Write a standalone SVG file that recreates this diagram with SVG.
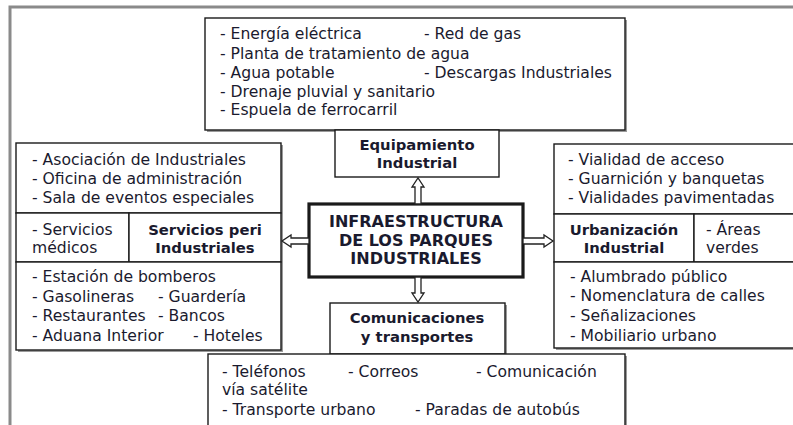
<svg xmlns="http://www.w3.org/2000/svg" width="793" height="425" viewBox="0 0 793 425">
<style>
.frame{fill:none;stroke:#8a8a8a;stroke-width:3}
.box{fill:#fff;stroke:#1a1a1a;stroke-width:1.4}
.sh{fill:#9a9a9a}
.main{fill:#fff;stroke:#1a1a1a;stroke-width:3.2}
.t{font-family:"DejaVu Sans","Liberation Sans",sans-serif;font-size:15.6px;fill:#1a1a2e}
.b{font-family:"DejaVu Sans","Liberation Sans",sans-serif;font-size:14.8px;font-weight:bold;fill:#1a1a2e;text-anchor:middle}
.bm{font-family:"DejaVu Sans","Liberation Sans",sans-serif;font-size:16px;font-weight:bold;fill:#1a1a2e;text-anchor:middle}
.arr{fill:#fff;stroke:#222;stroke-width:1.3;stroke-linejoin:miter}
</style>
<rect class="frame" x="10" y="7" width="800" height="430"/>

<g id="equipamiento-lista">
<rect class="sh" x="207" y="20" width="420" height="112"/>
<rect class="box" x="205" y="18" width="420" height="112"/>
<text class="t" x="220" y="39">- Energía eléctrica</text>
<text class="t" x="424" y="39">- Red de gas</text>
<text class="t" x="220" y="59">- Planta de tratamiento de agua</text>
<text class="t" x="220" y="78">- Agua potable</text>
<text class="t" x="424" y="78">- Descargas Industriales</text>
<text class="t" x="220" y="97">- Drenaje pluvial y sanitario</text>
<text class="t" x="220" y="115">- Espuela de ferrocarril</text>
</g>

<g id="equipamiento">
<rect class="box" x="335" y="130" width="164" height="47"/>
<text class="b" x="417" y="150">Equipamiento</text>
<text class="b" x="417" y="168">Industrial</text>
</g>

<g id="infraestructura">
<rect class="main" x="309" y="204" width="214" height="73"/>
<text class="bm" x="416" y="227">INFRAESTRUCTURA</text>
<text class="bm" x="416" y="246">DE LOS PARQUES</text>
<text class="bm" x="416" y="264">INDUSTRIALES</text>
</g>

<g id="servicios">
<rect class="sh" x="18" y="145" width="265" height="207"/>
<rect class="box" x="16" y="143" width="265" height="70"/>
<rect class="box" x="16" y="213" width="113" height="49"/>
<rect class="box" x="129" y="213" width="152" height="49"/>
<rect class="box" x="16" y="262" width="265" height="88"/>
<text class="t" x="32" y="165">- Asociación de Industriales</text>
<text class="t" x="32" y="184">- Oficina de administración</text>
<text class="t" x="32" y="203">- Sala de eventos especiales</text>
<text class="t" x="32" y="235">- Servicios</text>
<text class="t" x="32" y="253">médicos</text>
<text class="b" x="205" y="235">Servicios peri</text>
<text class="b" x="205" y="253">Industriales</text>
<text class="t" x="32" y="282">- Estación de bomberos</text>
<text class="t" x="32" y="302">- Gasolineras</text>
<text class="t" x="158" y="302">- Guardería</text>
<text class="t" x="32" y="321">- Restaurantes</text>
<text class="t" x="158" y="321">- Bancos</text>
<text class="t" x="32" y="341">- Aduana Interior</text>
<text class="t" x="193" y="341">- Hoteles</text>
</g>

<g id="urbanizacion">
<rect class="sh" x="556" y="146" width="250" height="204"/>
<rect class="box" x="554" y="144" width="250" height="70"/>
<rect class="box" x="554" y="214" width="140" height="48"/>
<rect class="box" x="694" y="214" width="110" height="48"/>
<rect class="box" x="554" y="262" width="250" height="86"/>
<text class="t" x="568" y="165">- Vialidad de acceso</text>
<text class="t" x="568" y="184">- Guarnición y banquetas</text>
<text class="t" x="568" y="203">- Vialidades pavimentadas</text>
<text class="b" x="624" y="235">Urbanización</text>
<text class="b" x="624" y="253">Industrial</text>
<text class="t" x="706" y="235">- Áreas</text>
<text class="t" x="706" y="253">verdes</text>
<text class="t" x="570" y="282">- Alumbrado público</text>
<text class="t" x="570" y="301">- Nomenclatura de calles</text>
<text class="t" x="570" y="321">- Señalizaciones</text>
<text class="t" x="570" y="341">- Mobiliario urbano</text>
</g>

<g id="comunicaciones">
<rect class="sh" x="332" y="305" width="175" height="51"/>
<rect class="box" x="330" y="303" width="175" height="51"/>
<text class="b" x="417" y="323">Comunicaciones</text>
<text class="b" x="417" y="342">y transportes</text>
</g>

<g id="comunicaciones-lista">
<rect class="sh" x="210" y="356" width="417" height="80"/>
<rect class="box" x="208" y="354" width="417" height="80"/>
<text class="t" x="222" y="377">- Teléfonos</text>
<text class="t" x="348" y="377">- Correos</text>
<text class="t" x="476" y="377">- Comunicación</text>
<text class="t" x="222" y="395">vía satélite</text>
<text class="t" x="222" y="415">- Transporte urbano</text>
<text class="t" x="415" y="415">- Paradas de autobús</text>
</g>

<g id="conectores">
<polygon class="arr" points="415,204 415,187 412,187 418,178 424,187 421,187 421,204"/>
<polygon class="arr" points="415,277 415,293 412,293 418,302 424,293 421,293 421,277"/>
<polygon class="arr" points="309,238 291,238 291,235 282,241 291,247 291,244 309,244"/>
<polygon class="arr" points="523,238 544,238 544,235 553,241 544,247 544,244 523,244"/>
</g>
</svg>
